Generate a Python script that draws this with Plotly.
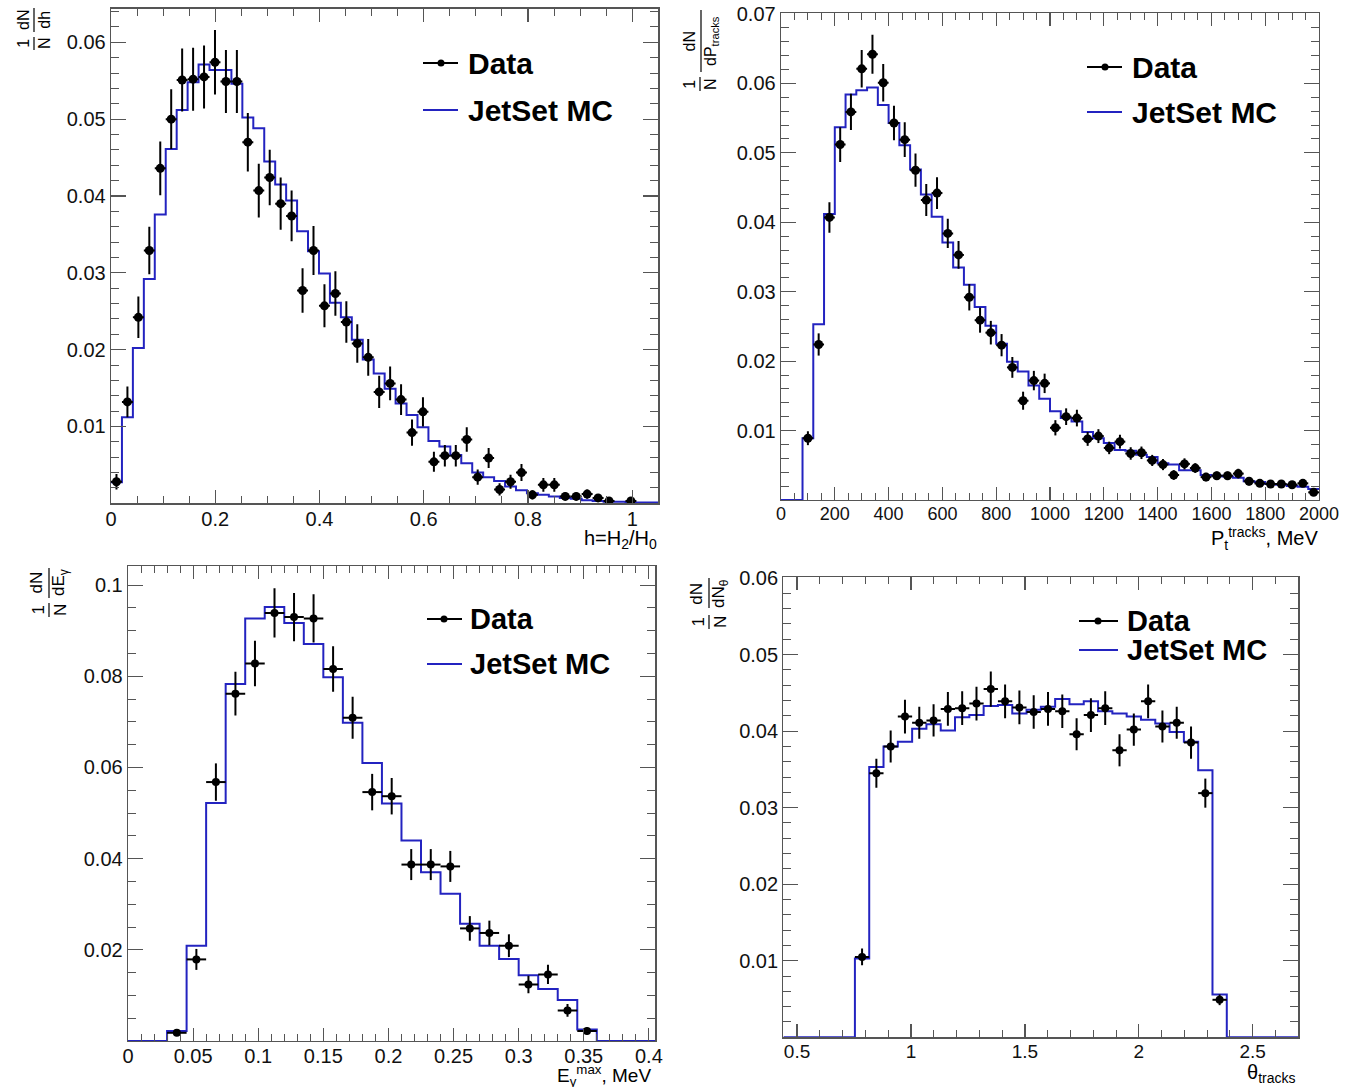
import numpy as np
import plotly.graph_objects as go

W, H = 1345, 1087
FONT = "Liberation Sans, Arial, Helvetica, sans-serif"
BLUE = "#2323c0"
AX = "#555555"

# ---------------- Panel 1 : h = H2/H0 ----------------
h_lo, h_hi, h_nbins = 0.0, 1.05, 50
h_mc = [0.00275, 0.0112, 0.0202, 0.0292, 0.0376, 0.0461, 0.0512, 0.0548, 0.0571, 0.0564,
        0.0564, 0.0546, 0.0502, 0.0488, 0.0445, 0.0415, 0.0394, 0.0354, 0.0328, 0.0299,
        0.0261, 0.0242, 0.0213, 0.0187, 0.0169, 0.0149, 0.0130, 0.0115, 0.0099, 0.0081,
        0.0074, 0.0063, 0.0052, 0.0040, 0.0034, 0.0029, 0.0022, 0.0017, 0.0013, 0.0011,
        0.0009, 0.0007, 0.0006, 0.0004, 0.0003, 0.0002, 0.0002, 0.0001, 0.0001, 0.0001]
h_data = [0.0028, 0.0132, 0.0242, 0.0329, 0.0436, 0.0500, 0.0551, 0.0552, 0.0555, 0.0574,
          0.0549, 0.0549, 0.0470, 0.0407, 0.0424, 0.0390, 0.0374, 0.0277, 0.0329, 0.0257,
          0.0273, 0.0236, 0.0208, 0.0190, 0.0145, 0.0156, 0.0135, 0.0092, 0.0119, 0.0054,
          0.0062, 0.0062, 0.0083, 0.0034, 0.0059, 0.0018, 0.0028, 0.0040, 0.0011, 0.0024,
          0.0024, 0.0009, 0.0009, 0.0012, 0.0007, 0.0003, None, 0.0003, None, None]
h_err = [0.0010, 0.0020, 0.0027, 0.0031, 0.0035, 0.0039, 0.0041, 0.0041, 0.0041, 0.0042,
         0.0041, 0.0041, 0.0038, 0.0035, 0.0036, 0.0034, 0.0033, 0.0029, 0.0032, 0.0028,
         0.0029, 0.0027, 0.0025, 0.0024, 0.0021, 0.0022, 0.0020, 0.0017, 0.0019, 0.0013,
         0.0014, 0.0014, 0.0016, 0.0010, 0.0013, 0.0008, 0.0009, 0.0011, 0.0006, 0.0009,
         0.0009, 0.0005, 0.0005, 0.0006, 0.0004, 0.0003, 0, 0.0003, 0, 0]
h_xticks = [0, 0.2, 0.4, 0.6, 0.8, 1.0]
h_xlabels = ["0", "0.2", "0.4", "0.6", "0.8", "1"]
h_yticks = [0.01, 0.02, 0.03, 0.04, 0.05, 0.06]
h_ylabels = ["0.01", "0.02", "0.03", "0.04", "0.05", "0.06"]

# ---------------- Panel 2 : Pt tracks ----------------
p_lo, p_hi, p_nbins = 0.0, 2000.0, 50
p_mc = [0, 0, 0.0089, 0.0253, 0.0412, 0.0537, 0.0584, 0.0590, 0.0594, 0.0569,
        0.0543, 0.0511, 0.0476, 0.0440, 0.0408, 0.0371, 0.0335, 0.0310, 0.0278, 0.0251,
        0.0225, 0.0199, 0.0185, 0.0165, 0.0146, 0.0128, 0.0118, 0.0113, 0.0098, 0.0089,
        0.0082, 0.0072, 0.0071, 0.0065, 0.0062, 0.0053, 0.0051, 0.0043, 0.0043, 0.0036,
        0.0035, 0.0034, 0.0032, 0.0027, 0.0026, 0.0023, 0.0022, 0.0020, 0.0019, 0.0016]
p_data = [None, None, 0.0089, 0.0224, 0.0407, 0.0512, 0.0559, 0.0621, 0.0642, 0.0601,
          0.0543, 0.0519, 0.0475, 0.0432, 0.0442, 0.0384, 0.0353, 0.0292, 0.0259, 0.0241,
          0.0223, 0.0191, 0.0143, 0.0172, 0.0168, 0.0104, 0.0120, 0.0118, 0.0088, 0.0092,
          0.0075, 0.0084, 0.0067, 0.0068, 0.0057, 0.0051, 0.0036, 0.0052, 0.0046, 0.0033,
          0.0035, 0.0035, 0.0038, 0.0027, 0.0024, 0.0023, 0.0023, 0.0022, 0.0024, 0.0011]
p_err = [0, 0, 0.0010, 0.0016, 0.0022, 0.0025, 0.0026, 0.0027, 0.0028, 0.0027,
         0.0025, 0.0025, 0.0024, 0.0023, 0.0023, 0.0021, 0.0020, 0.0019, 0.0018, 0.0017,
         0.0016, 0.0015, 0.0013, 0.0014, 0.0014, 0.0011, 0.0012, 0.0012, 0.0010, 0.0010,
         0.0009, 0.0010, 0.0009, 0.0009, 0.0008, 0.0008, 0.0007, 0.0008, 0.0007, 0.0006,
         0.0006, 0.0006, 0.0007, 0.0006, 0.0005, 0.0005, 0.0005, 0.0005, 0.0005, 0.0004]
p_xticks = [0, 200, 400, 600, 800, 1000, 1200, 1400, 1600, 1800, 2000]
p_xlabels = ["0", "200", "400", "600", "800", "1000", "1200", "1400", "1600", "1800", "2000"]
p_yticks = [0.01, 0.02, 0.03, 0.04, 0.05, 0.06, 0.07]
p_ylabels = ["0.01", "0.02", "0.03", "0.04", "0.05", "0.06", "0.07"]

# ---------------- Panel 3 : E_gamma max ----------------
e_lo, e_hi, e_nbins = 0.0, 0.405, 27
e_mc = [0, 0, 0.0022, 0.0209, 0.0522, 0.0783, 0.0927, 0.0952, 0.0917, 0.0871,
        0.0798, 0.0698, 0.0610, 0.0521, 0.0440, 0.0370, 0.0323, 0.0257, 0.0209, 0.0180,
        0.0144, 0.0114, 0.0090, 0.0025, 0, 0, 0]
e_data = [None, None, 0.0018, 0.0179, 0.0568, 0.0762, 0.0828, 0.0939, 0.0930, 0.0927,
          0.0816, 0.0709, 0.0546, 0.0537, 0.0387, 0.0387, 0.0383, 0.0247, 0.0237, 0.0209,
          0.0124, 0.0146, 0.0067, 0.0022, None, None, None]
e_err = [0, 0, 0.0007, 0.0023, 0.0041, 0.0048, 0.0050, 0.0054, 0.0053, 0.0053,
         0.0050, 0.0046, 0.0040, 0.0040, 0.0034, 0.0034, 0.0034, 0.0027, 0.0027, 0.0025,
         0.0019, 0.0021, 0.0014, 0.0008, 0, 0, 0]
e_xticks = [0, 0.05, 0.1, 0.15, 0.2, 0.25, 0.3, 0.35, 0.4]
e_xlabels = ["0", "0.05", "0.1", "0.15", "0.2", "0.25", "0.3", "0.35", "0.4"]
e_yticks = [0.02, 0.04, 0.06, 0.08, 0.1]
e_ylabels = ["0.02", "0.04", "0.06", "0.08", "0.1"]

# ---------------- Panel 4 : theta tracks ----------------
t_lo, t_hi, t_nbins = 0.44, 2.70, 36
t_mc = [0, 0, 0, 0, 0,
        0.0103, 0.0353, 0.0380, 0.0386, 0.0403, 0.0409, 0.0401, 0.0418, 0.0421, 0.0433,
        0.0434, 0.0423, 0.0428, 0.0432, 0.0442, 0.0435, 0.0439, 0.0426, 0.0423, 0.0419,
        0.0415, 0.0410, 0.0399, 0.0386, 0.0349, 0.0056,
        0, 0, 0, 0, 0]
t_data = [None, None, None, None, None,
          0.0105, 0.0345, 0.0380, 0.0419, 0.0411, 0.0414, 0.0429, 0.0430, 0.0436, 0.0455,
          0.0439, 0.0431, 0.0425, 0.0429, 0.0426, 0.0396, 0.0421, 0.0430, 0.0375, 0.0402,
          0.0439, 0.0406, 0.0411, 0.0385, 0.0319, 0.0049,
          None, None, None, None, None]
t_err = [0, 0, 0, 0, 0,
         0.0011, 0.0019, 0.0021, 0.0022, 0.0021, 0.0021, 0.0022, 0.0022, 0.0022, 0.0023,
         0.0022, 0.0022, 0.0022, 0.0022, 0.0022, 0.0021, 0.0022, 0.0022, 0.0021, 0.0021,
         0.0022, 0.0021, 0.0021, 0.0021, 0.0019, 0.0007,
         0, 0, 0, 0, 0]
t_xticks = [0.5, 1.0, 1.5, 2.0, 2.5]
t_xlabels = ["0.5", "1", "1.5", "2", "2.5"]
t_yticks = [0.01, 0.02, 0.03, 0.04, 0.05, 0.06]
t_ylabels = ["0.01", "0.02", "0.03", "0.04", "0.05", "0.06"]

legend_labels = ["Data", "JetSet MC"]

# ---------------- layout geometry (pixels) ----------------
panels = [
    dict(box=(111, 8.5, 658.3, 503.3), ymax=0.0644, xmin_d=0.05, ymin_d=0.002,
         lo=h_lo, hi=h_hi, n=h_nbins, mc=h_mc, data=h_data, err=h_err,
         xt=h_xticks, xl=h_xlabels, yt=h_yticks, yl=h_ylabels, msize=9, xfs=20, yfs=20),
    dict(box=(781, 13.3, 1319, 500), ymax=0.0701, xmin_d=50, ymin_d=0.002,
         lo=p_lo, hi=p_hi, n=p_nbins, mc=p_mc, data=p_data, err=p_err,
         xt=p_xticks, xl=p_xlabels, yt=p_yticks, yl=p_ylabels, msize=9, xfs=18, yfs=20),
    dict(box=(128, 566, 655.4, 1041), ymax=0.1042, xmin_d=0.01, ymin_d=0.005,
         lo=e_lo, hi=e_hi, n=e_nbins, mc=e_mc, data=e_data, err=e_err,
         xt=e_xticks, xl=e_xlabels, yt=e_yticks, yl=e_ylabels, msize=8, xfs=20, yfs=20),
    dict(box=(783.4, 577.3, 1298.3, 1037.3), ymax=0.0601, xmin_d=0.1, ymin_d=0.002,
         lo=t_lo, hi=t_hi, n=t_nbins, mc=t_mc, data=t_data, err=t_err,
         xt=t_xticks, xl=t_xlabels, yt=t_yticks, yl=t_ylabels, msize=8, xfs=19, yfs=20),
]


def px(x):
    return x / W


def py(y):
    return 1 - y / H


fig = go.Figure()
layout = dict(template="none", width=W, height=H,
              margin=dict(l=0, r=0, t=0, b=0, pad=0, autoexpand=False),
              paper_bgcolor="white", plot_bgcolor="white", showlegend=False)

for i, p in enumerate(panels, start=1):
    xa = "x" if i == 1 else f"x{i}"
    ya = "y" if i == 1 else f"y{i}"
    l, t, r, b = p["box"]
    edges = np.linspace(p["lo"], p["hi"], p["n"] + 1)
    centers = 0.5 * (edges[:-1] + edges[1:])
    half = (p["hi"] - p["lo"]) / p["n"] / 2.0
    xs = list(edges[:-1]) + [edges[-1]]
    ys = list(p["mc"]) + [p["mc"][-1]]
    fig.add_trace(go.Scatter(x=xs, y=ys, mode="lines", xaxis=xa, yaxis=ya,
                             line=dict(color=BLUE, width=2, shape="hv"),
                             name=legend_labels[1], hoverinfo="skip"))
    fig.add_trace(go.Scatter(x=centers, y=p["data"], mode="markers", xaxis=xa, yaxis=ya,
                             marker=dict(color="black", size=p["msize"]),
                             error_y=dict(type="data", array=p["err"], color="black",
                                          thickness=2, width=0),
                             error_x=dict(type="constant", value=half, color="black",
                                          thickness=2, width=0),
                             name=legend_labels[0]))
    common = dict(showline=True, linecolor=AX, linewidth=1.3, mirror="ticks",
                  ticks="inside", tickcolor=AX, tickwidth=1.2, showgrid=False,
                  zeroline=False, fixedrange=True, tickmode="array", automargin=False)
    layout["xaxis" if i == 1 else f"xaxis{i}"] = dict(
        common, domain=[px(l), px(r)], range=[p["lo"], p["hi"]],
        anchor=ya, tickvals=p["xt"], ticktext=p["xl"], ticklen=13,
        tickfont=dict(family=FONT, size=p["xfs"], color="#111111"),
        ticklabelstandoff=-3,
        minor=dict(ticks="inside", ticklen=7, tickwidth=1, tickcolor=AX,
                   tickmode="linear", tick0=0, dtick=p["xmin_d"], showgrid=False))
    layout["yaxis" if i == 1 else f"yaxis{i}"] = dict(
        common, domain=[py(b), py(t)], range=[0, p["ymax"]],
        anchor=xa, tickvals=p["yt"], ticktext=p["yl"], ticklen=15,
        tickfont=dict(family=FONT, size=p["yfs"], color="#111111"),
        ticklabelstandoff=0,
        minor=dict(ticks="inside", ticklen=8, tickwidth=1, tickcolor=AX,
                   tickmode="linear", tick0=0, dtick=p["ymin_d"], showgrid=False))

annotations = []
shapes = []


def ann(text, x, y, size, xanchor="center", yanchor="middle", angle=0):
    annotations.append(dict(text=text, x=px(x), y=py(y), xref="paper", yref="paper",
                            xanchor=xanchor, yanchor=yanchor, showarrow=False,
                            textangle=angle, font=dict(family=FONT, size=size, color="black")))


def hline(x0, x1, y, color, width=2):
    shapes.append(dict(type="line", xref="paper", yref="paper", x0=px(x0), x1=px(x1),
                       y0=py(y), y1=py(y), line=dict(color=color, width=width)))


def vline(x, y0, y1, width=1.2):
    shapes.append(dict(type="line", xref="paper", yref="paper", x0=px(x), x1=px(x),
                       y0=py(y0), y1=py(y1), line=dict(color="black", width=width)))


def dot(x, y, r=3.5):
    shapes.append(dict(type="circle", xref="paper", yref="paper",
                       x0=px(x - r), x1=px(x + r), y0=py(y + r), y1=py(y - r),
                       fillcolor="black", line=dict(color="black", width=0)))


# legends: (line x0, line x1, dot x, text x, y data, y mc, font)
legends = [
    (423, 458, 441, 466, 63, 110, 30),
    (1087, 1122, 1105, 1130, 67, 112, 30),
    (427, 462, 444, 468, 619, 664, 29),
    (1079, 1118, 1098, 1125, 621, 650, 29),
]
for (x0, x1, xd, xt, yd, ym, fs) in legends:
    hline(x0, x1, yd, "black", 2)
    dot(xd, yd)
    hline(x0, x1, ym, BLUE, 2)
    ann("<b>" + legend_labels[0] + "</b>", xt, yd, fs, xanchor="left")
    ann("<b>" + legend_labels[1] + "</b>", xt, ym, fs, xanchor="left")

# x axis titles
ann("h=H<sub>2</sub>/H<sub>0</sub>", 659, 539, 20, xanchor="right")
ann("P<sub>t</sub><sup>tracks</sup>, MeV", 1320, 538, 20, xanchor="right")
ann("E<sub>γ</sub><sup>max</sup>, MeV", 653, 1075, 19, xanchor="right")
ann("θ<sub>tracks</sub>", 1297, 1073, 20, xanchor="right")

# y axis titles (ROOT-style fractions, rotated)
ann("1<br>N", 34, 43, 16, angle=-90)
vline(34, 37, 50)
ann("dN<br>dh", 34, 20, 16, angle=-90)
vline(34, 8, 32)

ann("1<br>N", 700, 84, 16, angle=-90)
vline(700, 77, 91)
ann("dN<br>dP<sub>tracks</sub>", 701, 41, 16, angle=-90)
vline(701, 10, 72)

ann("1<br>N", 49, 610, 17, angle=-90)
vline(49, 603, 617)
ann("dN<br>dE<sub>γ</sub>", 49, 583, 17, angle=-90)
vline(49, 568, 598)

ann("1<br>N", 709, 622, 17, angle=-90)
vline(709, 615, 629)
ann("dN<br>dN<sub>θ</sub>", 709, 594, 17, angle=-90)
vline(709, 578, 608)

layout["annotations"] = annotations
layout["shapes"] = shapes
fig.update_layout(**layout)
fig.write_html("out.html",
               config={"displayModeBar": False, "staticPlot": True},
               post_script="document.body.style.margin='0';"
                           "document.body.style.padding='0';"
                           "document.body.style.overflow='hidden';")
